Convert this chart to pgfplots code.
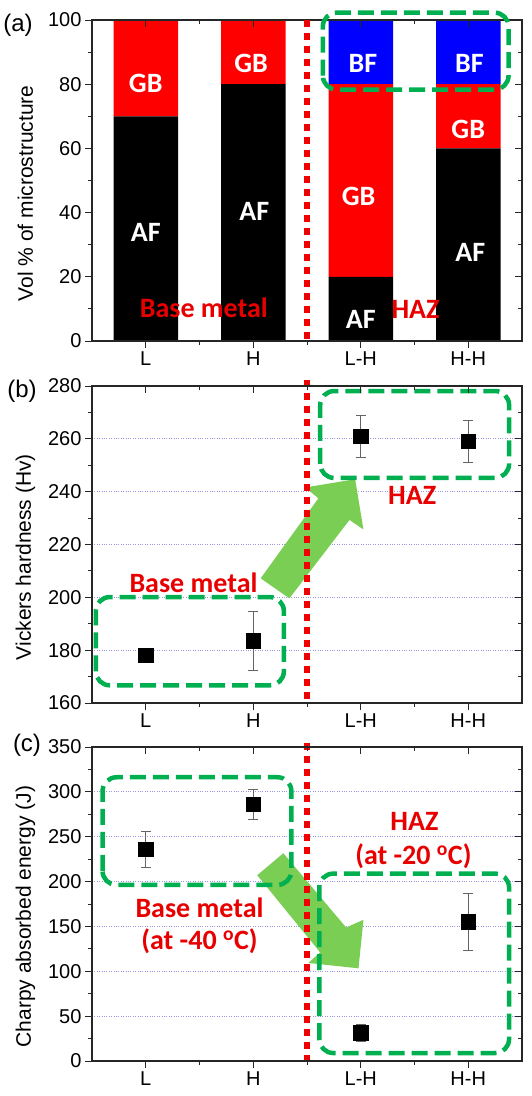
\documentclass[border=0pt]{standalone}
\usepackage{pgfplots}
\usepackage{pgfplotstable}
\pgfplotsset{compat=1.18}
\usepackage{fontspec}
\setmainfont{Liberation Sans}
\newfontfamily\calib{Carlito}

\definecolor{gboxc}{RGB}{0,176,80}
\definecolor{arrc}{RGB}{122,206,84}
\definecolor{redl}{RGB}{240,0,0}
\definecolor{redt}{RGB}{232,0,0}
\definecolor{gridc}{RGB}{150,150,225}
\definecolor{errc}{RGB}{100,100,100}
\definecolor{barred}{RGB}{255,0,0}
\definecolor{barblue}{RGB}{0,0,255}

\pgfplotstableread{
x AF GB BF
1 70 30 0
2 80 20 0
3 20 60 20
4 60 20 20
}\micro

\pgfplotstableread{
x y e
1 178 0
2 183.5 11
3 261 8
4 259 8
}\hardness

\pgfplotstableread{
x y e
1 236 20
2 286 17
3 31.5 9.5
4 155 32
}\charpy

\tikzset{
  gbox/.style={draw=gboxc, line width=4.5pt, dash pattern=on 16pt off 7pt, rounded corners=14pt},
  redsep/.style={draw=redl, line width=6.5pt, dash pattern=on 7pt off 6pt},
  wl/.style={text=white, font=\calib\bfseries\fontsize{28}{32}\selectfont},
  rl/.style={text=redt, font=\calib\bfseries\fontsize{28}{33}\selectfont},
}

\pgfplotsset{
  panel/.style={scale only axis, width=430pt, xmin=0.5, xmax=4.5, xtick={1,2,3,4},
    minor x tick num=1, minor y tick num=1, enlargelimits=false, clip=false,
    axis line style={line width=1.1pt, black!85},
    tick style={line width=1pt, black!85},
    major tick length=7pt, minor tick length=4pt, anchor=north west,
    /pgf/number format/assume math mode=true,
    tick label style={font=\fontsize{20}{24}\selectfont, black},
    label style={font=\fontsize{21}{25}\selectfont}},
  main/.style={panel, tick align=outside, xtick pos=left, ytick pos=left,
    xticklabels={L,H,L-H,H-H},
    ylabel style={at={(axis description cs:-0.155,0.46)}, anchor=center}},
  over/.style={panel, tick align=inside, xtick pos=right, ytick pos=right,
    xticklabels={}, yticklabels={}},
  errs/.style={only marks, mark=none, forget plot, error bars/.cd, y dir=both, y explicit,
    error bar style={errc, line width=0.9pt},
    error mark options={errc, line width=0.9pt, mark size=5pt, rotate=90}},
  marks/.style={only marks, mark=square*, mark size=7.3pt, mark options={fill=black, draw=black, line width=0.6pt}},
}

\begin{document}
\begin{tikzpicture}
\useasboundingbox (0pt,-1096pt) rectangle (531pt,0pt);

% ---------------- (a)
\begin{axis}[main, at={(92pt,-20pt)}, height=321pt, ymin=0, ymax=100, ytick={0,20,...,100},
  ybar stacked, bar width=0.6, ylabel={Vol \% of microstructure}]
\addplot[fill=black, draw=none] table[x=x, y=AF] {\micro};
\addplot[fill=barred, draw=none] table[x=x, y=GB] {\micro};
\addplot[fill=barblue, draw=none] table[x=x, y=BF] {\micro};
\end{axis}
\begin{axis}[over, at={(92pt,-20pt)}, height=321pt, ymin=0, ymax=100, ytick={0,20,...,100}]
\draw[redsep] (axis cs:2.5,100) -- (axis cs:2.5,0);
\draw[gbox] (axis cs:2.647,78.3) rectangle (axis cs:4.375,102.3);
\node[wl] at (axis cs:1,80.2) {GB};
\node[wl] at (axis cs:1,33.7) {AF};
\node[wl] at (axis cs:1.98,86.4) {GB};
\node[wl] at (axis cs:2.01,40.3) {AF};
\node[wl] at (axis cs:3.02,86.4) {BF};
\node[wl] at (axis cs:2.98,44.9) {GB};
\node[wl] at (axis cs:3.0,6.6) {AF};
\node[wl] at (axis cs:4.01,86.4) {BF};
\node[wl] at (axis cs:4.0,65.8) {GB};
\node[wl] at (axis cs:4.02,27.7) {AF};
\node[rl] at (axis cs:1.54,10.2) {Base metal};
\node[rl] at (axis cs:3.51,9.7) {HAZ};
\end{axis}

% ---------------- (b)
\begin{axis}[main, at={(92pt,-386pt)}, height=317pt, ymin=160, ymax=280, ytick={160,180,...,280},
  ymajorgrids, major grid style={dotted, line width=0.8pt, gridc},
  ylabel={Vickers hardness (Hv)}]
\fill[arrc] (axis cs:2.069,207.2) -- (axis cs:2.606,237.5) -- (axis cs:2.482,241.6)
  -- (axis cs:2.948,244.7) -- (axis cs:3.025,225.7) -- (axis cs:2.895,229.3)
  -- (axis cs:2.336,199.6) -- cycle;
\draw[redsep] (axis cs:2.5,282.3) -- (axis cs:2.5,160);
\draw[gbox] (axis cs:0.535,166.7) rectangle (axis cs:2.285,200.1);
\draw[gbox] (axis cs:2.623,245.2) rectangle (axis cs:4.38,278.1);
\node[rl] at (axis cs:1.444,205.6) {Base metal};
\node[rl] at (axis cs:3.478,238.5) {HAZ};
\addplot[errs] table[x=x, y=y, y error=e] {\hardness};
\addplot[marks] table[x=x, y=y] {\hardness};
\end{axis}
\begin{axis}[over, at={(92pt,-386pt)}, height=317pt, ymin=160, ymax=280, ytick={160,180,...,280}]
\end{axis}

% ---------------- (c)
\begin{axis}[main, at={(92pt,-747pt)}, height=314pt, ymin=0, ymax=350, ytick={0,50,...,350},
  ymajorgrids, major grid style={dotted, line width=0.8pt, gridc},
  ylabel={Charpy absorbed energy (J)}]
\fill[arrc] (axis cs:2.037,207.1) -- (axis cs:2.28,231.6) -- (axis cs:2.864,148.9)
  -- (axis cs:3.025,157.4) -- (axis cs:2.979,103.3) -- (axis cs:2.513,109.3)
  -- (axis cs:2.622,121.1) -- cycle;
\draw[redsep] (axis cs:2.5,354.6) -- (axis cs:2.5,-2.2);
\draw[gbox] (axis cs:0.598,196.3) rectangle (axis cs:2.355,316.3);
\draw[gbox] (axis cs:2.614,8.9) rectangle (axis cs:4.38,208.9);
\node[rl] at (axis cs:3.5,267.4) {HAZ};
\node[rl] at (axis cs:3.49,228.5) {(at -20 \textsuperscript{o}C)};
\node[rl] at (axis cs:1.5,171.1) {Base metal};
\node[rl] at (axis cs:1.5,134) {(at -40 \textsuperscript{o}C)};
\addplot[errs] table[x=x, y=y, y error=e] {\charpy};
\addplot[marks] table[x=x, y=y] {\charpy};
\end{axis}
\begin{axis}[over, at={(92pt,-747pt)}, height=314pt, ymin=0, ymax=350, ytick={0,50,...,350}]
\end{axis}

\node[font=\fontsize{24}{28}\selectfont] at (18pt,-25pt) {(a)};
\node[font=\fontsize{24}{28}\selectfont] at (22pt,-391pt) {(b)};
\node[font=\fontsize{24}{28}\selectfont] at (27pt,-745.5pt) {(c)};
\end{tikzpicture}
\end{document}
